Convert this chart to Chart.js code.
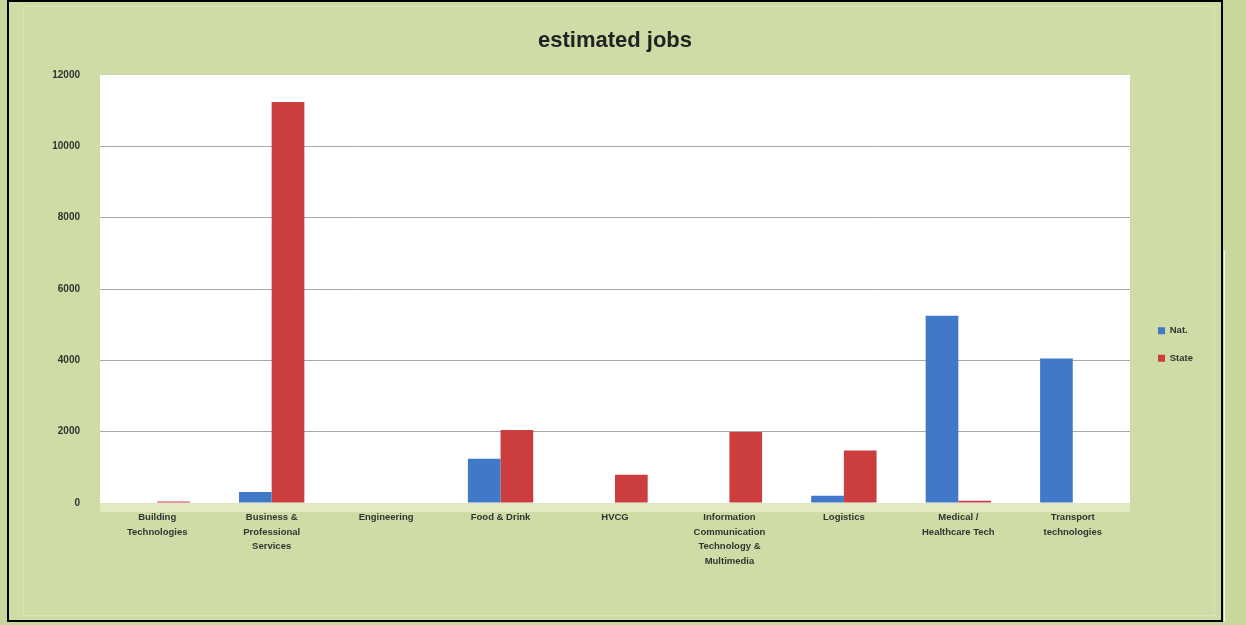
<!DOCTYPE html>
<html>
<head>
<meta charset="utf-8">
<script src="https://cdn.jsdelivr.net/npm/chart.js@4/dist/chart.umd.min.js"></script>
<style>
  html, body { margin: 0; padding: 0; width: 1246px; height: 625px; overflow: hidden; background: #c8d89c; }
  #frame { position: absolute; left: 7px; top: 0px; width: 1216px; height: 622px; box-sizing: border-box;
           border: 2px solid #000; background: #cfdca6; }
  #inner { position: absolute; left: 14px; top: 4px; width: 1190px; height: 608px; border: 1px solid #d8e4b6; }
  #wline { position: absolute; left: 1224px; top: 250px; width: 1px; height: 372px; background: #f4f7ea; }
  canvas { position: absolute; left: 0px; top: 0px; }
</style>
</head>
<body>
<div id="frame"><div id="inner"></div><canvas id="c" width="1212" height="618"></canvas></div>
<div id="wline"></div>
<script>
const categories = [
  ["Building", "Technologies"],
  ["Business &", "Professional", "Services"],
  "Engineering",
  "Food & Drink",
  "HVCG",
  ["Information", "Communication", "Technology &", "Multimedia"],
  "Logistics",
  ["Medical /", "Healthcare Tech"],
  ["Transport", "technologies"]
];
const seriesNames = ["Nat.", "State"];
const natValues   = [0, 310, 0, 1240, 0, 0, 200, 5250, 4050];
const stateValues = [40, 11240, 0, 2050, 790, 1990, 1470, 60, 0];
const yTicks = [0, 2000, 4000, 6000, 8000, 10000, 12000];

const layoutPlugin = {
  id: 'layoutFix',
  beforeLayout(chart) {
    const lg = chart.legend;
    if (lg && !lg._patched) {
      const orig = lg.fit;
      lg.fit = function () { orig.call(this); this.width = 91; };
      lg._patched = true;
    }
  },
  afterLayout(chart) {
    const lg = chart.legend;
    if (lg) {
      lg.left = 1131; lg.right = 1212;
      lg.top = 306; lg.bottom = 600;
    }
  },
  beforeDatasetsDraw(chart) {
    const { ctx, chartArea: a } = chart;
    ctx.save();
    ctx.fillStyle = 'rgba(232,240,205,0.7)';
    ctx.fillRect(a.left, a.bottom, a.right - a.left, 9);
    ctx.restore();
  },
  beforeDraw(chart) {
    const { ctx, chartArea: a } = chart;
    ctx.save();
    ctx.fillStyle = '#ffffff';
    ctx.fillRect(a.left, a.top, a.right - a.left, a.bottom - a.top);
    ctx.restore();
  }
};

new Chart(document.getElementById('c'), {
  type: 'bar',
  data: {
    labels: categories,
    datasets: [
      { label: seriesNames[0], data: natValues, backgroundColor: '#4278c8', borderWidth: 0 },
      { label: seriesNames[1], data: stateValues, backgroundColor: '#cc3d3d', borderWidth: 0 }
    ]
  },
  options: {
    responsive: false,
    animation: false,
    layout: { padding: 0 },
    datasets: { bar: { categoryPercentage: 0.571, barPercentage: 1 } },
    plugins: {
      title: {
        display: true, text: 'estimated jobs', color: '#222',
        font: { family: 'Liberation Sans', size: 22, weight: 'bold', lineHeight: 1.2 },
        padding: { top: 26, bottom: 20.6 }
      },
      legend: {
        position: 'right', align: 'start',
        labels: {
          boxWidth: 7, boxHeight: 7, padding: 18, color: '#333',
          font: { family: 'Liberation Sans', size: 9.5, weight: 'bold' }
        }
      },
      tooltip: { enabled: false }
    },
    scales: {
      x: {
        grid: { display: false, drawTicks: false },
        border: { display: true, color: '#c8d0b0' },
        ticks: {
          color: '#333', padding: 7, maxRotation: 0, autoSkip: false,
          font: { family: 'Liberation Sans', size: 9.5, weight: 'bold', lineHeight: 1.55 }
        },
        afterFit(s) { s.height = 117; }
      },
      y: {
        min: 0, max: 12000,
        afterBuildTicks(s) { s.ticks = yTicks.map(v => ({ value: v })); },
        grid: {
          color: (c) => (c.tick && c.tick.value === 12000) ? 'rgba(0,0,0,0)' : '#a8a8a8',
          lineWidth: 1, drawTicks: false
        },
        border: { display: false },
        ticks: {
          color: '#333', padding: 20,
          font: { family: 'Liberation Sans', size: 10, weight: 'bold' },
          callback: (v) => String(v)
        },
        afterFit(s) { s.width = 91; }
      }
    }
  },
  plugins: [layoutPlugin]
});
</script>
</body>
</html>
